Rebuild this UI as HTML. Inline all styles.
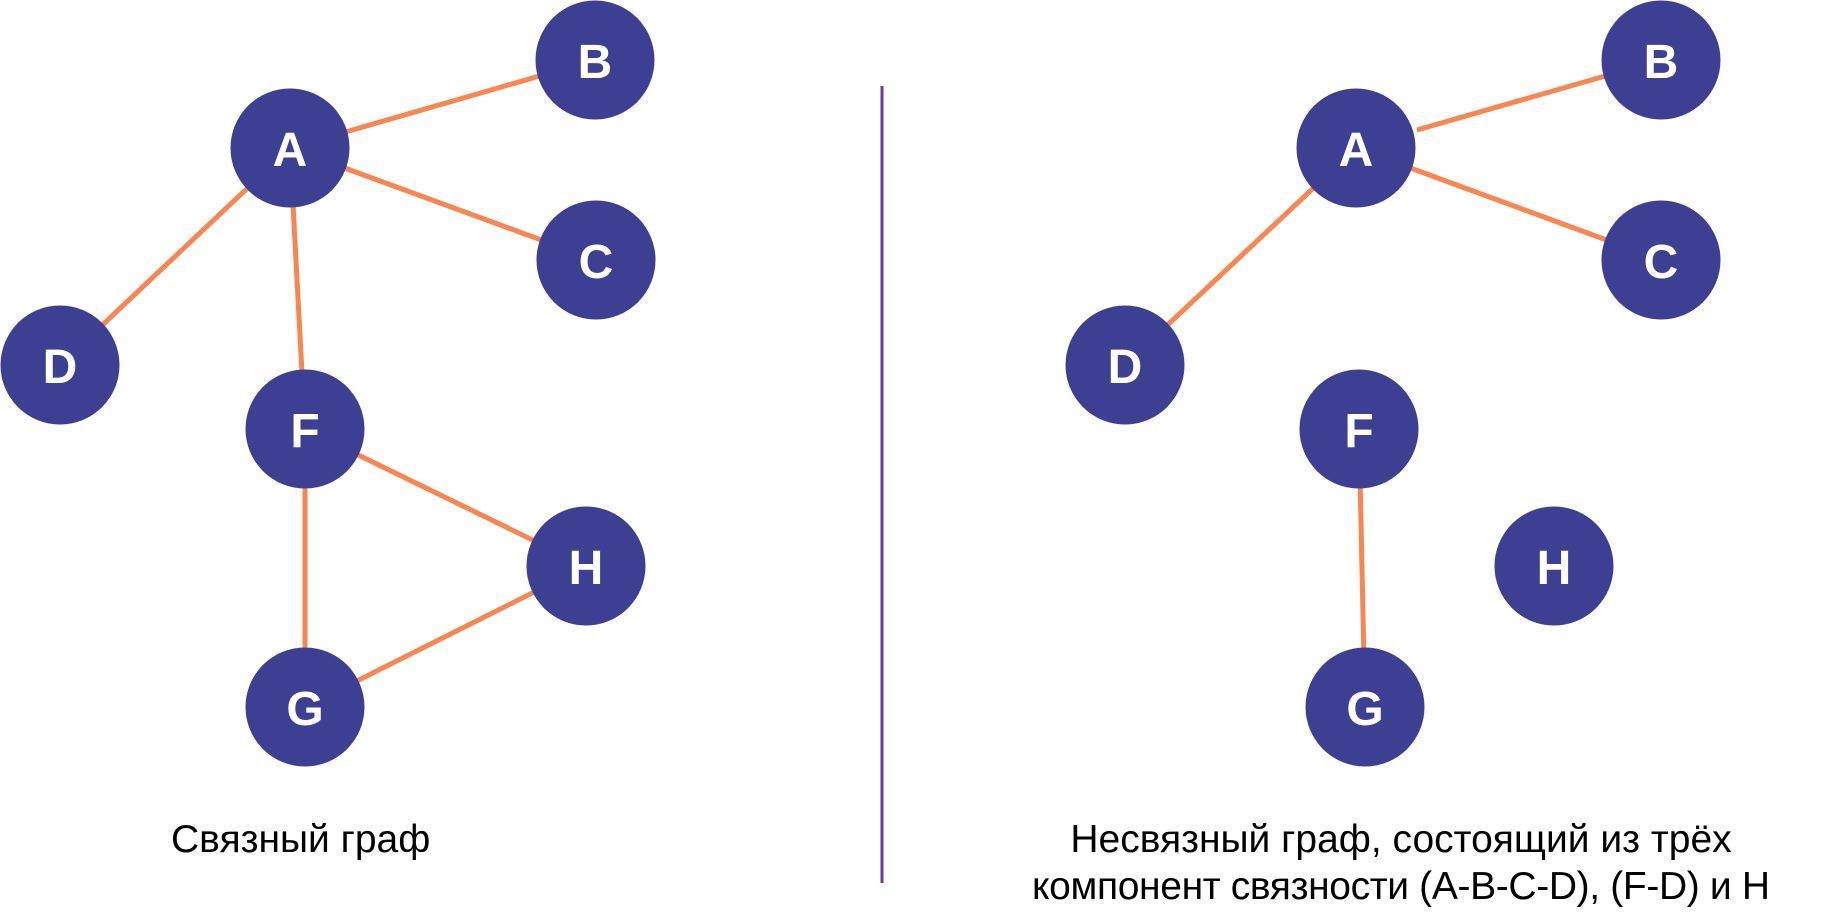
<!DOCTYPE html>
<html><head><meta charset="utf-8"><style>
html,body{margin:0;padding:0;background:#fff;width:1844px;height:921px;overflow:hidden}
</style></head><body>
<svg width="1844" height="921" viewBox="0 0 1844 921" xmlns="http://www.w3.org/2000/svg">
<g stroke="#f98550" stroke-width="5" stroke-linecap="butt">
<line x1="290" y1="148" x2="595" y2="60"/>
<line x1="290" y1="148" x2="596" y2="260"/>
<line x1="290" y1="148" x2="60" y2="365"/>
<line x1="290" y1="148" x2="305" y2="429"/>
<line x1="305" y1="429" x2="586" y2="566"/>
<line x1="305" y1="429" x2="305" y2="707"/>
<line x1="586" y1="566" x2="305" y2="707"/>
<line x1="1417" y1="130" x2="1661" y2="60"/>
<line x1="1356" y1="148" x2="1661" y2="260"/>
<line x1="1356" y1="148" x2="1125" y2="365"/>
<line x1="1359" y1="429" x2="1365" y2="707"/>
</g>
<line x1="882" y1="86" x2="882" y2="883" stroke="#6a3a9e" stroke-width="3"/>
<g fill="#3d3f93">
<circle cx="290" cy="148" r="59.5"/><circle cx="595" cy="60" r="59.5"/>
<circle cx="596" cy="260" r="59.5"/><circle cx="60" cy="365" r="59.5"/>
<circle cx="305" cy="429" r="59.5"/><circle cx="586" cy="566" r="59.5"/>
<circle cx="305" cy="707" r="59.5"/>
<circle cx="1356" cy="148" r="59.5"/><circle cx="1661" cy="60" r="59.5"/>
<circle cx="1661" cy="260" r="59.5"/><circle cx="1125" cy="365" r="59.5"/>
<circle cx="1359" cy="429" r="59.5"/><circle cx="1554" cy="566" r="59.5"/>
<circle cx="1365" cy="707" r="59.5"/>
</g>
<g fill="#fff" font-family="Liberation Sans, sans-serif" font-weight="bold" font-size="48" text-anchor="middle">
<text x="290" y="166">A</text><text x="595" y="78">B</text><text x="596" y="278">C</text>
<text x="60" y="383">D</text><text x="305" y="447">F</text><text x="586" y="584">H</text>
<text x="305" y="725">G</text>
<text x="1356" y="166">A</text><text x="1661" y="78">B</text><text x="1661" y="278">C</text>
<text x="1125" y="383">D</text><text x="1359" y="447">F</text><text x="1554" y="584">H</text>
<text x="1365" y="725">G</text>
</g>
<g fill="#000" font-family="Liberation Sans, DejaVu Sans, sans-serif" font-size="39">
<text x="171" y="852">Связный граф</text>
<text x="1401" y="852" text-anchor="middle">Несвязный граф, состоящий из трёх</text>
<text x="1401" y="899" text-anchor="middle" textLength="738">компонент связности (A-B-C-D), (F-D) и H</text>
</g>
</svg>
</body></html>
